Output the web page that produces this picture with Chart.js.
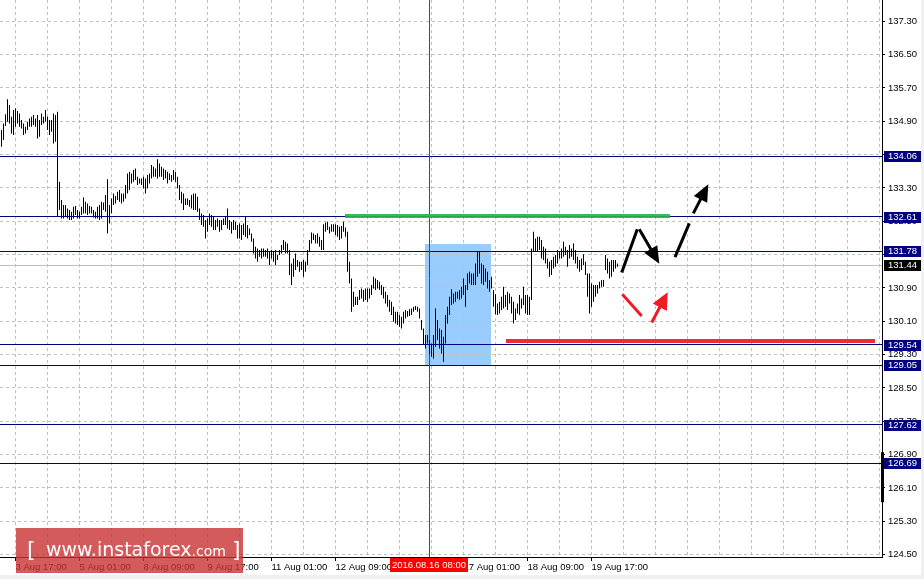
<!DOCTYPE html>
<html>
<head>
<meta charset="utf-8">
<script src="https://cdn.jsdelivr.net/npm/chart.js@4/dist/chart.umd.min.js"></script>
<style>
html,body{margin:0;padding:0;background:#f0f0f0;}
#wrap{width:924px;height:579px;}
canvas{display:block;}
</style>
</head>
<body>
<div id="wrap"><canvas id="c" width="924" height="579"></canvas></div>
<script>
// ---- H1 bars (bar index 0 = 3 Aug 10:00), high / low ----
const barHighs = [
134.69,134.85,135.07,135.43,135.29,135.01,135.17,135.21,135.15,135.09,
134.93,134.85,134.77,134.89,134.97,135.01,135.05,134.97,135.05,134.93,
135.09,135.01,135.17,135.01,134.93,134.93,135.09,135.05,135.13,133.45,
133.01,132.89,132.89,132.81,132.77,132.73,132.85,132.87,132.77,132.73,
132.85,133.07,132.97,132.93,132.87,132.85,132.77,132.73,132.85,132.89,
132.97,132.95,133.13,133.51,132.89,133.05,133.17,133.11,133.21,133.25,
133.17,133.17,133.37,133.65,133.69,133.65,133.73,133.77,133.57,133.53,
133.53,133.57,133.53,133.61,133.65,133.85,133.81,133.77,133.99,133.89,
133.81,133.77,133.73,133.69,133.65,133.61,133.73,133.69,133.57,133.37,
133.21,133.17,133.05,133.05,133.01,133.13,133.17,133.17,133.09,132.81,
132.69,132.65,132.53,132.57,132.69,132.65,132.61,132.53,132.57,132.53,
132.53,132.57,132.61,132.81,132.53,132.49,132.53,132.49,132.41,132.45,
132.41,132.45,132.61,132.41,132.33,132.21,132.09,131.89,131.85,131.81,
131.85,131.85,131.81,131.85,131.77,131.81,131.77,131.81,131.69,131.81,
131.93,132.05,132.01,131.97,131.81,131.49,131.61,131.73,131.57,131.53,
131.53,131.57,131.53,131.81,132.05,132.23,132.21,132.17,132.21,132.13,
132.05,132.43,132.47,132.49,132.37,132.43,132.43,132.43,132.41,132.37,
132.39,132.49,132.35,132.25,131.53,131.13,130.81,130.69,130.69,130.85,
130.89,130.85,130.89,130.89,130.89,130.97,131.17,131.13,131.09,131.05,
130.97,130.93,130.81,130.73,130.61,130.57,130.45,130.33,130.33,130.25,
130.21,130.33,130.37,130.35,130.39,130.41,130.45,130.47,130.45,130.41,
130.13,129.93,129.77,129.77,129.65,129.57,129.77,130.41,130.13,129.93,
129.89,129.73,130.25,130.45,130.69,130.87,130.77,130.81,130.81,130.85,
130.93,131.13,130.97,131.25,131.29,131.25,131.25,131.49,131.77,131.77,
131.49,131.45,131.37,131.29,131.09,131.17,130.85,130.75,130.53,130.57,
130.69,130.93,130.73,130.81,130.77,130.69,130.57,130.41,130.53,130.73,
130.65,130.93,130.73,130.73,130.69,131.85,132.25,132.09,132.13,132.13,
132.05,131.89,131.85,131.61,131.53,131.57,131.65,131.69,131.81,131.77,
131.85,132.01,131.89,131.81,131.93,131.85,131.97,131.81,131.65,131.57,
131.61,131.71,131.53,131.25,131.25,131.01,130.97,130.97,130.97,131.05,
131.09,131.09,131.69,131.61,131.53,131.57,131.57,131.57,131.49
];
const barLows = [
134.29,134.45,134.79,134.89,134.85,134.61,134.57,134.77,134.85,134.77,
134.73,134.57,134.61,134.69,134.77,134.77,134.81,134.77,134.49,134.53,
134.81,134.85,134.89,134.69,134.57,134.65,134.37,134.41,132.61,132.77,
132.57,132.57,132.61,132.57,132.53,132.53,132.57,132.65,132.57,132.57,
132.65,132.69,132.69,132.65,132.69,132.69,132.59,132.57,132.57,132.53,
132.57,132.77,132.73,132.21,132.45,132.69,132.89,132.93,133.01,132.97,
132.93,132.97,133.05,133.17,133.25,133.41,133.45,133.49,133.37,133.41,
133.37,133.29,133.17,133.29,133.41,133.53,133.57,133.57,133.53,133.57,
133.57,133.49,133.53,133.41,133.49,133.45,133.49,133.45,133.29,133.01,
132.93,132.77,132.89,132.89,132.85,132.81,132.77,132.77,132.73,132.53,
132.41,132.37,132.09,132.25,132.41,132.37,132.29,132.29,132.37,132.25,
132.29,132.41,132.41,132.33,132.29,132.21,132.29,132.29,132.09,132.09,
132.05,132.17,132.13,132.09,132.17,132.01,131.73,131.61,131.53,131.65,
131.61,131.65,131.65,131.61,131.45,131.61,131.53,131.45,131.57,131.69,
131.73,131.81,131.73,131.73,131.21,130.97,131.17,131.33,131.41,131.29,
131.33,131.17,131.29,131.45,131.77,131.97,132.05,131.97,131.97,131.89,
131.81,131.81,132.25,132.29,132.21,132.25,132.25,132.17,132.13,132.05,
132.09,132.25,132.13,131.29,131.01,130.33,130.45,130.49,130.49,130.61,
130.65,130.57,130.61,130.57,130.65,130.73,130.89,130.85,130.89,130.85,
130.73,130.65,130.53,130.45,130.33,130.25,130.09,130.05,130.01,129.97,
129.93,130.05,130.17,130.21,130.23,130.25,130.33,130.37,130.33,130.17,
129.89,129.53,129.45,129.57,129.33,129.25,129.21,129.49,129.65,129.45,
129.33,129.13,129.57,130.05,130.25,130.49,130.53,130.57,130.65,130.61,
130.65,130.73,130.45,130.85,131.01,130.97,130.97,130.97,131.17,131.25,
131.01,130.97,131.05,130.89,130.81,130.89,130.45,130.27,130.25,130.29,
130.37,130.41,130.45,130.37,130.53,130.29,130.05,130.13,130.29,130.25,
130.41,130.49,130.29,130.25,130.25,130.61,131.77,131.77,131.77,131.81,
131.61,131.57,131.49,131.37,131.17,131.21,131.37,131.41,131.49,131.61,
131.61,131.65,131.69,131.41,131.61,131.65,131.57,131.49,131.37,131.29,
131.33,131.45,131.21,130.69,130.29,130.45,130.57,130.69,130.77,130.89,
130.93,130.93,131.33,131.25,131.13,131.17,131.29,131.37,131.41
];

// ---- time axis ----
const timeLabels = ["3 Aug 17:00","5 Aug 01:00","8 Aug 09:00","9 Aug 17:00","11 Aug 01:00",
  "12 Aug 09:00","15 Aug 17:00","17 Aug 01:00","18 Aug 09:00","19 Aug 17:00"];
const firstLabelBar = 7;
const barsPerGrid = 16;
const gridCount = 28;
const xRange = [-0.75, 440.25];

// ---- price axis ----
const priceTicks = [124.50,125.30,126.10,126.90,127.70,128.50,129.30,130.10,130.90,131.70,
  132.50,133.30,134.10,134.90,135.70,136.50,137.30];
const yRange = [124.444, 137.811];

// ---- horizontal levels ----
const levelPrices = [134.06, 132.61, 131.78, 129.54, 129.05, 127.62, 126.69];
const currentPrice = 131.44;

// ---- analysis objects (bar index / price) ----
const zoneBars = [211.75, 244.75];
const zonePrices = [129.05, 131.95];
const markerBar = 214;
const markerLabel = "2016.08.16 08:00";
const resistBars = [171.75, 334.25];
const resistPrice = 132.63;
const supportBars = [252.25, 436.75];
const supportPrice = 129.63;
const blackStroke1Bars = [310.1, 317.9];
const blackStroke1Prices = [131.27, 132.31];
const blackArrow2Bars = [318.9, 328.9];
const blackArrow2Prices = [132.31, 131.48];
const blackStroke3Bars = [336.75, 343.9];
const blackStroke3Prices = [131.64, 132.45];
const blackArrow3Bars = [345.9, 353.4];
const blackArrow3Prices = [132.69, 133.39];
const redStrokeBars = [310.4, 320.1];
const redStrokePrices = [130.75, 130.23];
const redArrowBars = [325.1, 333.1];
const redArrowPrices = [130.07, 130.80];

const gridTicks = [];
for (let k = 0; k < gridCount; k++) gridTicks.push(firstLabelBar + k * barsPerGrid);
function labelFor(v) {
  const k = Math.round((v - firstLabelBar) / barsPerGrid);
  if (k % 2 !== 0) return "";
  return timeLabels[k / 2] || "";
}

const FONT = "'Liberation Sans', Arial, sans-serif";
const crisp = v => Math.round(v - 0.5) + 0.5;

function arrowLine(ctx, x1, y1, x2, y2, color, head, L, W) {
  ctx.save();
  ctx.strokeStyle = color; ctx.fillStyle = color;
  ctx.lineWidth = 3; ctx.lineCap = 'butt';
  const ang = Math.atan2(y2 - y1, x2 - x1);
  let ex = x2, ey = y2;
  if (head) { ex = x2 - Math.cos(ang) * (L - 2); ey = y2 - Math.sin(ang) * (L - 2); }
  ctx.beginPath(); ctx.moveTo(x1, y1); ctx.lineTo(ex, ey); ctx.stroke();
  if (head) {
    const bx = x2 - Math.cos(ang) * L, by = y2 - Math.sin(ang) * L;
    ctx.beginPath();
    ctx.moveTo(x2, y2);
    ctx.lineTo(bx + Math.sin(ang) * W, by - Math.cos(ang) * W);
    ctx.lineTo(bx - Math.sin(ang) * W, by + Math.cos(ang) * W);
    ctx.closePath(); ctx.fill();
  }
  ctx.restore();
}

const decor = {
  id: 'decor',
  beforeDraw(chart) {
    const ctx = chart.ctx, xs = chart.scales.x, ys = chart.scales.y;
    ctx.save();
    ctx.fillStyle = '#f0f0f0'; ctx.fillRect(0, 0, 924, 579);
    ctx.fillStyle = '#ffffff'; ctx.fillRect(0, 0, 921, 575);
    const x1 = Math.round(xs.getPixelForValue(zoneBars[0])), x2 = Math.round(xs.getPixelForValue(zoneBars[1]));
    const y1 = Math.round(ys.getPixelForValue(zonePrices[1])), y2 = Math.round(ys.getPixelForValue(zonePrices[0]));
    ctx.fillStyle = '#99ccff';
    ctx.fillRect(x1, y1, x2 - x1, y2 - y1);
    ctx.restore();
  },
  beforeDatasetsDraw(chart) {
    const ctx = chart.ctx, xs = chart.scales.x, ys = chart.scales.y, a = chart.chartArea;
    ctx.save();
    ctx.lineWidth = 1;
    ctx.strokeStyle = '#c0c0c0';
    let y = crisp(ys.getPixelForValue(currentPrice));
    ctx.beginPath(); ctx.moveTo(a.left, y); ctx.lineTo(a.right, y); ctx.stroke();
    ctx.strokeStyle = '#000080';
    levelPrices.forEach(p => {
      const yy = crisp(ys.getPixelForValue(p));
      ctx.beginPath(); ctx.moveTo(a.left, yy); ctx.lineTo(a.right, yy); ctx.stroke();
    });
    ctx.strokeStyle = '#ff0000';
    const vx = crisp(xs.getPixelForValue(markerBar));
    ctx.beginPath(); ctx.moveTo(vx, a.top); ctx.lineTo(vx, a.bottom); ctx.stroke();
    ctx.restore();
  },
  afterDatasetsDraw(chart) {
    const ctx = chart.ctx, xs = chart.scales.x, ys = chart.scales.y;
    const X = v => xs.getPixelForValue(v), Y = v => ys.getPixelForValue(v);
    ctx.save();
    ctx.lineCap = 'butt';
    ctx.strokeStyle = 'rgba(40,180,70,0.92)'; ctx.lineWidth = 4;
    let y = Y(resistPrice);
    ctx.beginPath(); ctx.moveTo(X(resistBars[0]), y); ctx.lineTo(X(resistBars[1]), y); ctx.stroke();
    ctx.strokeStyle = 'rgba(232,28,40,0.92)'; ctx.lineWidth = 4;
    y = Y(supportPrice);
    ctx.beginPath(); ctx.moveTo(X(supportBars[0]), y); ctx.lineTo(X(supportBars[1]), y); ctx.stroke();
    ctx.restore();
    arrowLine(ctx, X(blackStroke1Bars[0]), Y(blackStroke1Prices[0]), X(blackStroke1Bars[1]), Y(blackStroke1Prices[1]), '#000', false);
    arrowLine(ctx, X(blackArrow2Bars[0]), Y(blackArrow2Prices[0]), X(blackArrow2Bars[1]), Y(blackArrow2Prices[1]), '#000', true, 17, 7.5);
    arrowLine(ctx, X(blackStroke3Bars[0]), Y(blackStroke3Prices[0]), X(blackStroke3Bars[1]), Y(blackStroke3Prices[1]), '#000', false);
    arrowLine(ctx, X(blackArrow3Bars[0]), Y(blackArrow3Prices[0]), X(blackArrow3Bars[1]), Y(blackArrow3Prices[1]), '#000', true, 17, 7.5);
    arrowLine(ctx, X(redStrokeBars[0]), Y(redStrokePrices[0]), X(redStrokeBars[1]), Y(redStrokePrices[1]), '#ee1c24', false);
    arrowLine(ctx, X(redArrowBars[0]), Y(redArrowPrices[0]), X(redArrowBars[1]), Y(redArrowPrices[1]), '#ee1c24', true, 17, 8);
  },
  afterDraw(chart) {
    const ctx = chart.ctx, xs = chart.scales.x, ys = chart.scales.y, a = chart.chartArea;
    ctx.save();
    ctx.font = '9.5px ' + FONT;
    ctx.textBaseline = 'middle'; ctx.textAlign = 'left';
    const tag = (p, bg) => {
      const yy = Math.round(ys.getPixelForValue(p));
      ctx.fillStyle = bg;
      ctx.fillRect(a.right + 2, yy - 5, 37, 11);
      ctx.fillStyle = '#ffffff';
      ctx.fillText(p.toFixed(2), a.right + 6, yy + 0.5);
    };
    levelPrices.forEach(p => tag(p, '#000080'));
    tag(currentPrice, '#000000');
    const vx = xs.getPixelForValue(markerBar);
    const w = ctx.measureText(markerLabel).width + 4;
    ctx.fillStyle = '#ff0000';
    ctx.fillRect(Math.round(vx - w / 2 - 1), a.bottom + 1, Math.round(w), 14);
    ctx.fillStyle = '#ffffff';
    ctx.fillText(markerLabel, Math.round(vx - w / 2 + 1), a.bottom + 8.5);
    ctx.fillStyle = '#000000';
    const t1 = ys.getPixelForValue(126.96), t2 = ys.getPixelForValue(125.76);
    ctx.fillRect(a.right - 1, t1, 3, t2 - t1);
    ctx.fillStyle = 'rgba(200,50,50,0.8)';
    ctx.fillRect(16, 528, 227, 45);
    ctx.fillStyle = '#ffffff';
    ctx.textBaseline = 'alphabetic';
    ctx.font = '22px "DejaVu Sans", sans-serif';
    ctx.fillText('[', 27, 557);
    ctx.font = '19px "DejaVu Sans", sans-serif';
    ctx.fillText('www.instaforex', 46, 556);
    const ww = ctx.measureText('www.instaforex').width;
    ctx.font = '14px "DejaVu Sans", sans-serif';
    ctx.fillText('.com', 46 + ww, 556);
    ctx.font = '22px "DejaVu Sans", sans-serif';
    ctx.fillText(']', 232, 557);
    ctx.restore();
  }
};

const barData = barHighs.map((h, i) => ({ x: i, y: [barLows[i], h] }));

new Chart(document.getElementById('c'), {
  type: 'bar',
  data: {
    datasets: [{
      data: barData,
      backgroundColor: '#000000',
      borderWidth: 0,
      barThickness: 1,
      inflateAmount: 0,
      grouped: false
    }]
  },
  options: {
    responsive: false,
    animation: false,
    devicePixelRatio: 1,
    layout: { padding: 0 },
    plugins: { legend: { display: false }, tooltip: { enabled: false } },
    scales: {
      x: {
        type: 'linear',
        offset: false,
        min: xRange[0], max: xRange[1],
        afterBuildTicks: s => { s.ticks = gridTicks.map(v => ({ value: v })); },
        afterFit: s => { s.height = 22; s.paddingLeft = 0; s.paddingRight = 0; },
        ticks: {
          autoSkip: false, maxRotation: 0, minRotation: 0,
          align: 'start', padding: 1, color: '#000000',
          font: { family: FONT, size: 9.5 },
          callback: v => labelFor(v)
        },
        grid: {
          offset: false,
          color: '#c0c0c0', lineWidth: 1, tickLength: 4,
          tickColor: c => (c.tick && labelFor(c.tick.value)) ? '#000000' : 'rgba(0,0,0,0)'
        },
        border: { color: '#000000', width: 1, dash: [3, 3] }
      },
      y: {
        type: 'linear', position: 'right',
        min: yRange[0], max: yRange[1],
        afterBuildTicks: s => { s.ticks = priceTicks.map(v => ({ value: v })); },
        afterFit: s => { s.width = 42; s.paddingTop = 0; s.paddingBottom = 0; },
        ticks: {
          autoSkip: false, padding: 3, color: '#000000',
          font: { family: FONT, size: 9.5 },
          callback: v => Number(v).toFixed(2)
        },
        grid: { color: '#c0c0c0', lineWidth: 1, tickLength: 3, tickColor: '#000000' },
        border: { color: '#000000', width: 1, dash: [3, 3] }
      }
    }
  },
  plugins: [decor]
});
</script>
</body>
</html>
